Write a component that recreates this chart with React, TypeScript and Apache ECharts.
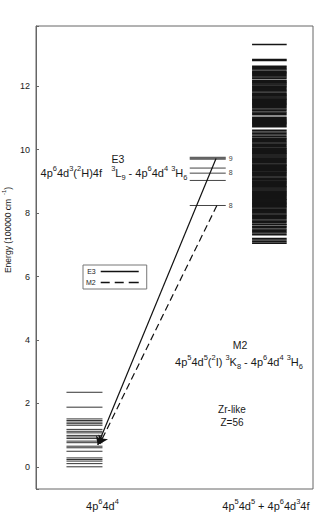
import React, { useEffect, useRef } from "react";
import * as echarts from "echarts";

// ---- data ----
const xTickPositions = [24, 83];
const xTickLabels = ["4p{s|6}4d{s|4}", "4p{s|5}4d{s|5} + 4p{s|6}4d{s|3}4f"];

const lowerLevels = [2.35, 1.88, 1.51, 1.46, 1.41, 1.36, 1.31, 1.18, 1.12, 1.07, 0.99, 0.94, 0.89, 0.81, 0.76, 0.65, 0.6, 0.49, 0.28, 0.23, 0.18, 0.1, 0.0];
const transitionLevels = [9.76, 9.73, 9.7, 9.42, 9.26, 9.03, 8.24];
const levelTagValues = [9.72, 9.27, 8.24];
const levelTagTexts = ["9", "8", "8"];
const upperLevels = [13.32, 12.84, 12.81, 12.63, 12.59, 12.55, 12.51, 12.46, 12.43, 12.4, 12.37, 12.33, 12.29, 12.25, 12.19, 12.16, 12.13, 12.1, 12.07, 12.04, 12.0, 11.97, 11.93, 11.89, 11.86, 11.82, 11.77, 11.75, 11.72, 11.69, 11.66, 11.63, 11.6, 11.58, 11.55, 11.52, 11.49, 11.46, 11.43, 11.4, 11.36, 11.33, 11.28, 11.24, 11.19, 11.15, 11.1, 11.02, 10.98, 10.95, 10.92, 10.89, 10.86, 10.83, 10.8, 10.76, 10.72, 10.61, 10.56, 10.51, 10.46, 10.41, 10.36, 10.33, 10.29, 10.25, 10.21, 10.17, 10.13, 10.09, 10.05, 10.03, 10.0, 9.97, 9.94, 9.91, 9.89, 9.86, 9.83, 9.8, 9.77, 9.74, 9.71, 9.68, 9.65, 9.62, 9.59, 9.55, 9.52, 9.5, 9.47, 9.44, 9.41, 9.38, 9.35, 9.33, 9.3, 9.27, 9.24, 9.21, 9.18, 9.14, 9.1, 9.07, 9.04, 9.01, 8.99, 8.96, 8.93, 8.9, 8.87, 8.84, 8.82, 8.79, 8.76, 8.73, 8.7, 8.67, 8.64, 8.62, 8.59, 8.56, 8.53, 8.5, 8.47, 8.44, 8.42, 8.39, 8.36, 8.33, 8.3, 8.28, 8.25, 8.22, 8.19, 8.16, 8.12, 8.08, 8.05, 8.01, 7.97, 7.93, 7.9, 7.86, 7.83, 7.78, 7.74, 7.71, 7.66, 7.63, 7.58, 7.55, 7.5, 7.46, 7.41, 7.37, 7.32, 7.2, 7.15, 7.1, 7.05];

const e3Arrow = [[65, 9.72], [22.3, 0.69]];
const m2Arrow = [[65.3, 8.24], [23, 0.72]];

// group x extents (axis units)
const lowerX = [11, 24];
const midX = [55.5, 68.5];
const upperX = [78, 90.5];

const FONT = "'Liberation Sans', Arial, sans-serif";
const TXT = "#1a1a1a";

const supRich = (size: number) => ({
  n: { fontSize: size, fontFamily: FONT, color: TXT, fill: TXT, lineHeight: size + 5, verticalAlign: "middle" },
  s: { fontSize: size * 0.68, fontFamily: FONT, color: TXT, fill: TXT, lineHeight: size * 0.68, verticalAlign: "top" },
  b: { fontSize: size * 0.68, fontFamily: FONT, color: TXT, fill: TXT, lineHeight: size * 0.68, verticalAlign: "bottom" },
});

function levelSeries(name: string, levels: number[], xr: number[], color: string, width: number) {
  return {
    type: "custom",
    name,
    coordinateSystem: "cartesian2d",
    silent: true,
    data: levels.map((v) => [xr[0], v]),
    encode: { x: 0, y: 1 },
    renderItem: (params: any, api: any) => {
      const v = api.value(1);
      const p0 = api.coord([xr[0], v]);
      const p1 = api.coord([xr[1], v]);
      return {
        type: "line",
        shape: { x1: p0[0], y1: p0[1], x2: p1[0], y2: p1[1] },
        style: { stroke: color, lineWidth: width },
      };
    },
  };
}

const solidIcon = "path://M0,0H38V1.4H0Z";
const dashIcon = "path://M0,0H9V1.4H0Z M14,0H23V1.4H14Z M28,0H38V1.4H28Z";

export default function App() {
  const ref = useRef<HTMLDivElement>(null);
  useEffect(() => {
    const chart = echarts.init(ref.current!, undefined, { renderer: "svg" });
    const option: any = {
      animation: false,
      backgroundColor: "#fff",
      grid: { left: 36, right: 14, top: 26, bottom: 23, show: true, borderColor: "#666", borderWidth: 1 },
      xAxis: {
        type: "value",
        min: 0,
        max: 100,
        interval: 1,
        axisLine: { show: false },
        axisTick: { show: false },
        splitLine: { show: false },
        axisLabel: {
          margin: 9,
          formatter: (v: number) => {
            const i = xTickPositions.indexOf(Math.round(v));
            return i >= 0 && Math.abs(v - Math.round(v)) < 1e-9
              ? "{n|" + xTickLabels[i].replace(/\{s\|([^}]*)\}/g, "}{s|$1}{n|") + "}"
              : "";
          },
          rich: supRich(11),
        },
      },
      yAxis: {
        type: "value",
        min: -0.7,
        max: 13.9,
        splitNumber: 7,
        axisLine: { show: true, lineStyle: { color: "#666" } },
        axisTick: { show: true, inside: true, length: 3, lineStyle: { color: "#666" } },
        splitLine: { show: false },
        axisLabel: {
          margin: 6,
          fontSize: 9,
          color: TXT,
          fontFamily: FONT,
          formatter: (v: number) => (Math.abs(v - Math.round(v)) < 1e-9 && Math.round(v) % 2 === 0 ? String(Math.round(v)) : ""),
        },
      },
      legend: {
        data: [
          { name: "E3", icon: solidIcon },
          { name: "M2", icon: dashIcon },
        ],
        left: 83,
        top: 265,
        orient: "vertical",
        align: "right",
        itemWidth: 38,
        itemHeight: 1.4,
        itemGap: 4,
        padding: [3, 8, 3, 3],
        borderColor: "#777",
        borderWidth: 1,
        selectedMode: false,
        itemStyle: { color: "#111", borderWidth: 0 },
        textStyle: { fontSize: 7, color: TXT, fontFamily: FONT },
      },
      series: [
        levelSeries("lower", lowerLevels, lowerX, "#333", 1),
        levelSeries("mid", transitionLevels, midX, "#444", 1),
        levelSeries("upper", upperLevels, upperX, "#151515", 1.5),
        {
          type: "custom",
          name: "tags",
          coordinateSystem: "cartesian2d",
          silent: true,
          data: levelTagValues.map((v) => [midX[1], v]),
          encode: { x: 0, y: 1 },
          renderItem: (params: any, api: any) => {
            const p = api.coord([midX[1], api.value(1)]);
            return {
              type: "text",
              x: p[0] + 3,
              y: p[1],
              style: { text: levelTagTexts[params.dataIndex], fontSize: 7, fill: "#444", fontFamily: FONT, verticalAlign: "middle", align: "left" },
            };
          },
        },
        {
          type: "lines",
          name: "E3",
          coordinateSystem: "cartesian2d",
          symbol: ["none", "arrow"],
          symbolSize: 8,
          lineStyle: { color: "#111", width: 1.2, type: "solid", opacity: 1 },
          itemStyle: { color: "#111" },
          data: [{ coords: e3Arrow }],
        },
        {
          type: "lines",
          name: "M2",
          coordinateSystem: "cartesian2d",
          symbol: ["none", "arrow"],
          symbolSize: 8,
          lineStyle: { color: "#111", width: 1.2, type: [7, 4], opacity: 1 },
          itemStyle: { color: "#111" },
          data: [{ coords: m2Arrow }],
        },
      ],
      graphic: [
        {
          type: "text",
          x: 8,
          y: 230,
          rotation: Math.PI / 2,
          style: {
            text: "{n|Energy (100000 cm }{s| -1}{n|)}",
            rich: supRich(8.5),
            align: "center",
            verticalAlign: "middle",
          },
        },
        { type: "text", x: 118, y: 159, style: { text: "E3", fontSize: 10.5, fill: TXT, fontFamily: FONT, align: "center", verticalAlign: "middle" } },
        {
          type: "text",
          x: 114,
          y: 173,
          style: {
            text: "{n|4p}{s|6}{n|4d}{s|3}{n|(}{s|2}{n|H)4f   }{s|3}{n|L}{b|9}{n| - 4p}{s|6}{n|4d}{s|4}{n| }{s|3}{n|H}{b|6}",
            rich: supRich(11),
            align: "center",
            verticalAlign: "middle",
          },
        },
        { type: "text", x: 240, y: 345, style: { text: "M2", fontSize: 10.5, fill: TXT, fontFamily: FONT, align: "center", verticalAlign: "middle" } },
        {
          type: "text",
          x: 239,
          y: 362,
          style: {
            text: "{n|4p}{s|5}{n|4d}{s|5}{n|(}{s|2}{n|I) }{s|3}{n|K}{b|8}{n| - 4p}{s|6}{n|4d}{s|4}{n| }{s|3}{n|H}{b|6}",
            rich: supRich(11),
            align: "center",
            verticalAlign: "middle",
          },
        },
        { type: "text", x: 232, y: 409, style: { text: "Zr-like", fontSize: 10, fill: TXT, fontFamily: FONT, align: "center", verticalAlign: "middle" } },
        { type: "text", x: 232, y: 422, style: { text: "Z=56", fontSize: 10, fill: TXT, fontFamily: FONT, align: "center", verticalAlign: "middle" } },
      ],
    };
    chart.setOption(option);
    return () => chart.dispose();
  }, []);
  return <div ref={ref} style={{ position: "absolute", left: 0, top: 0, width: 327, height: 512 }} />;
}
